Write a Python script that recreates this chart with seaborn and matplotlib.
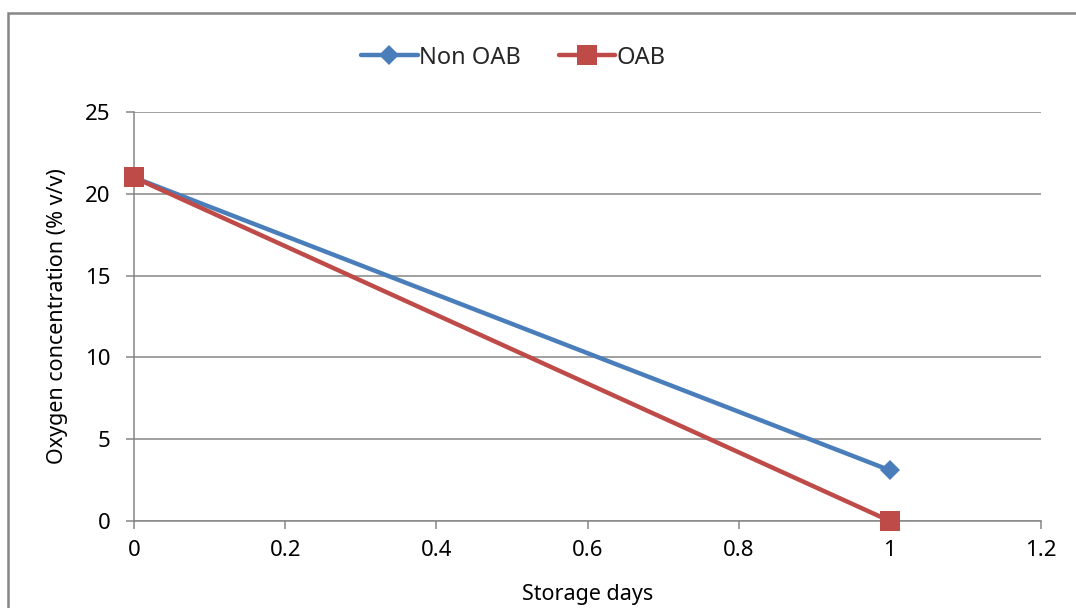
import matplotlib
matplotlib.use("Agg")
import matplotlib.pyplot as plt
import seaborn as sns
import pandas as pd
from matplotlib.patches import Rectangle

# Oxygen concentration over storage time
storage_days = [0, 1]
non_oab = [21.0, 3.1]
oab = [21.0, 0.0]
series_names = ["Non OAB", "OAB"]
x_ticks = [0, 0.2, 0.4, 0.6, 0.8, 1, 1.2]
x_tick_labels = ["0", "0.2", "0.4", "0.6", "0.8", "1", "1.2"]
y_ticks = [0, 5, 10, 15, 20, 25]

df = pd.DataFrame({
    "days": storage_days * 2,
    "oxygen": non_oab + oab,
    "group": [series_names[0]] * len(storage_days) + [series_names[1]] * len(storage_days),
})

sns.set_theme(style="white")
plt.rcParams["font.family"] = ["Noto Sans", "DejaVu Sans"]

fig = plt.figure(figsize=(10.76, 6.08), dpi=100)
ax = fig.add_axes([134 / 1076, 87 / 608, (1041 - 134) / 1076, (521 - 112) / 608])

palette = {"Non OAB": "#4A7EBB", "OAB": "#BE4B48"}
markers = {"Non OAB": "D", "OAB": "s"}
sizes = {"Non OAB": 10, "OAB": 14}

sns.lineplot(data=df, x="days", y="oxygen", hue="group", style="group",
             palette=palette, markers=markers, dashes=False,
             linewidth=3.2, ax=ax, legend=False)
for line, name in zip(ax.get_lines(), series_names):
    line.set_markersize(sizes[name])
    line.set_markeredgewidth(0)
    line.set_clip_on(False)
    line.set_zorder(5)

ax.set_xlim(0, 1.2)
ax.set_ylim(0, 25)
ax.set_xticks(x_ticks)
ax.set_xticklabels(x_tick_labels)
ax.set_yticks(y_ticks)

ax.grid(axis="y", color="#868686", linewidth=1.1)
ax.grid(axis="x", visible=False)
ax.set_axisbelow(True)
for side in ["top", "right"]:
    ax.spines[side].set_visible(False)
for side in ["left", "bottom"]:
    ax.spines[side].set_color("#868686")
    ax.spines[side].set_linewidth(1.1)

ax.tick_params(axis="both", which="major", direction="out", length=6,
               width=1.1, color="#868686", labelsize=16, labelcolor="black",
               bottom=True, left=True)
ax.tick_params(axis="y", pad=11)
ax.tick_params(axis="x", pad=8)

ax.set_xlabel("Storage days", fontsize=15.5, color="black", labelpad=16)
ax.set_ylabel("Oxygen concentration (% v/v)", fontsize=15.5, color="black", labelpad=12)

# Legend built from the plotted lines
handles = ax.get_lines()[:2]
fig.legend(handles, series_names, loc="center", bbox_to_anchor=(0.477, 0.905),
           ncol=2, frameon=False, fontsize=17, handlelength=2.4,
           columnspacing=1.6, handletextpad=0.05, markerscale=1.0)

# Chart frame
fig.patches.append(Rectangle((8 / 1076, -0.05), 1.2, 1 - 13 / 608 + 0.05,
                             transform=fig.transFigure, fill=False,
                             edgecolor="#868686", linewidth=1.8, zorder=0))

fig.savefig("out.png", dpi=100)
